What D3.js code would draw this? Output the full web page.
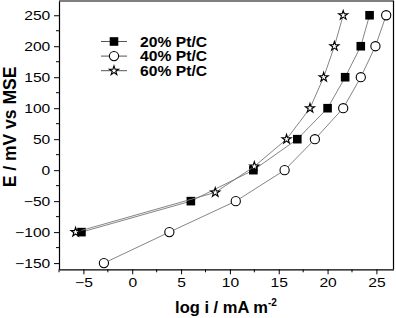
<!DOCTYPE html>
<html>
<head>
<meta charset="utf-8">
<script src="https://cdn.jsdelivr.net/npm/d3@7"></script>
<style>
  body { margin: 0; background: #fff; }
  svg { display: block; font-family: "Liberation Sans", Arial, sans-serif; }
</style>
</head>
<body>
<svg id="chart" width="396" height="318"></svg>
<script>
// series values: [log i, E]
const pt20 = [[-5.2, -100], [6.0, -50], [12.4, 0], [16.9, 50], [20.0, 100], [21.8, 150], [23.4, 200], [24.3, 250]];
const pt40 = [[-2.9, -150], [3.8, -100], [10.6, -50], [15.6, 0], [18.7, 50], [21.6, 100], [23.4, 150], [24.9, 200], [26.0, 250]];
const pt60 = [[-5.8, -100], [8.5, -36], [12.5, 6], [15.8, 50], [18.2, 100], [19.6, 150], [20.7, 200], [21.6, 250]];
const seriesNames = ['20% Pt/C', '40% Pt/C', '60% Pt/C'];
const xTicks = [-5, 0, 5, 10, 15, 20, 25];
const yTicks = [-150, -100, -50, 0, 50, 100, 150, 200, 250];

const svg = d3.select('#chart');
const mLeft = 59, mRight = 393.5, mTop = 1, mBottom = 269.3;

const x = d3.scaleLinear().domain([-7.5, 26.75]).range([mLeft, mRight]);
const y = d3.scaleLinear().domain([-160, 273]).range([mBottom, mTop]);

const series = [
  { name: seriesNames[0], values: pt20, symbol: 'square' },
  { name: seriesNames[1], values: pt40, symbol: 'circle' },
  { name: seriesNames[2], values: pt60, symbol: 'star' },
];

function drawMarker (g, symbol) {
  if (symbol === 'square') {
    g.append('rect').attr('x', -4.3).attr('y', -4.3).attr('width', 8.6).attr('height', 8.6)
      .attr('fill', '#000');
  } else if (symbol === 'circle') {
    g.append('circle').attr('r', 4.6).attr('fill', '#fff')
      .attr('stroke', '#000').attr('stroke-width', 1.1);
  } else {
    g.append('path').attr('d', d3.symbol(d3.symbolStar, 26)())
      .attr('fill', '#fff').attr('stroke', '#000').attr('stroke-width', 1.1);
  }
}

// minor ticks
const xMinor = d3.range(-7.5, 27, 2.5).filter(v => !xTicks.includes(v));
const yMinor = d3.range(-150, 275, 25).filter(v => !yTicks.includes(v));

const xAxis = svg.append('g').attr('transform', `translate(0,${mBottom})`)
  .call(d3.axisBottom(x).tickValues(xTicks).tickSize(5).tickSizeOuter(0).tickPadding(4));
xAxis.append('g').selectAll('line').data(xMinor).join('line')
  .attr('x1', d => x(d)).attr('x2', d => x(d)).attr('y1', 0).attr('y2', 3)
  .attr('stroke', '#000');

const yAxis = svg.append('g').attr('transform', `translate(${mLeft},0)`)
  .call(d3.axisLeft(y).tickValues(yTicks).tickSize(5).tickSizeOuter(0).tickPadding(3));
yAxis.append('g').selectAll('line').data(yMinor).join('line')
  .attr('y1', d => y(d)).attr('y2', d => y(d)).attr('x1', 0).attr('x2', -3)
  .attr('stroke', '#000');

svg.selectAll('.domain').attr('stroke', '#000').attr('stroke-width', 1.2);
svg.selectAll('.tick line').attr('stroke', '#000');
svg.selectAll('.tick text').attr('font-size', 12.5).attr('fill', '#000')
  .attr('font-family', '"Liberation Sans", Arial, sans-serif');
xAxis.selectAll('.tick text').attr('transform', 'scale(1.25,1)');
yAxis.selectAll('.tick text').attr('transform', 'scale(1.25,1)').attr('x', -7);

// top and right frame
svg.append('path')
  .attr('d', `M${mLeft},${mTop}H${mRight}V${mBottom}`)
  .attr('fill', 'none').attr('stroke', '#000').attr('stroke-width', 1.2);

const line = d3.line().x(d => x(d[0])).y(d => y(d[1]));

const groups = svg.append('g').selectAll('g').data(series).join('g');
groups.append('path')
  .attr('d', d => line(d.values))
  .attr('fill', 'none').attr('stroke', '#777').attr('stroke-width', 0.9);
groups.each(function (s) {
  d3.select(this).selectAll('g.pt').data(s.values).join('g')
    .attr('class', 'pt')
    .attr('transform', d => `translate(${x(d[0])},${y(d[1])})`)
    .each(function () { drawMarker(d3.select(this), s.symbol); });
});

// legend
const legend = svg.append('g').attr('transform', 'translate(101,41.5)');
const item = legend.selectAll('g').data(series).join('g')
  .attr('transform', (d, i) => `translate(0,${i * 14.6})`);
item.append('line').attr('x1', 0).attr('x2', 26).attr('stroke', '#555').attr('stroke-width', 1);
item.append('g').attr('transform', 'translate(13,0)')
  .each(function (d) { drawMarker(d3.select(this), d.symbol); });
item.append('text').attr('x', 39 / 1.12).attr('y', 5)
  .attr('transform', 'scale(1.12,1)')
  .attr('font-size', 14).attr('font-weight', 'bold').text(d => d.name);

// axis titles
const xt = svg.append('text').attr('x', 226).attr('y', 313)
  .attr('text-anchor', 'middle').attr('font-size', 16.5).attr('font-weight', 'bold');
xt.append('tspan').text('log i / mA m');
xt.append('tspan').attr('dy', -7).attr('font-size', 10).text('-2');

svg.append('text')
  .attr('transform', 'translate(16,127) rotate(-90)')
  .attr('text-anchor', 'middle').attr('font-size', 17.5).attr('font-weight', 'bold')
  .text('E / mV vs MSE');
</script>
</body>
</html>
